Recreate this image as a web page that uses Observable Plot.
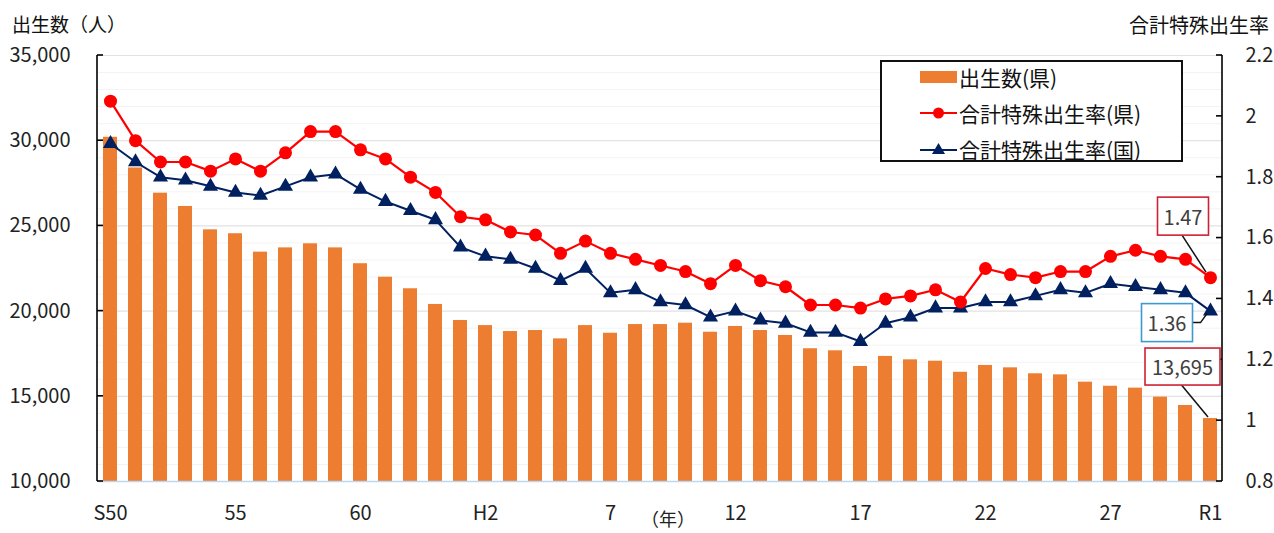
<!DOCTYPE html>
<html><head><meta charset="utf-8">
<script src="https://cdn.jsdelivr.net/npm/d3@7"></script>
<script src="https://cdn.jsdelivr.net/npm/@observablehq/plot@0.6"></script>
<style>
body{margin:0;background:#fff;font-family:"Noto Sans CJK JP","Noto Sans",sans-serif;}
#wrap{position:relative;width:1274px;height:533px;overflow:hidden;background:#fff;}
.abs{position:absolute;white-space:nowrap;color:#222;line-height:1;}
#legend{position:absolute;left:880px;top:60px;width:299px;height:98px;border:2px solid #111;background:#fff;}
.li{position:absolute;left:38px;height:30px;display:flex;align-items:center;font-size:21px;color:#111;}
.li svg{margin-right:2px;}
</style></head><body><div id="wrap"></div>
<script>
// ---- data ----
const years = ["S50","S51","S52","S53","S54","S55","S56","S57","S58","S59","S60","S61","S62","S63",
  "H1","H2","H3","H4","H5","H6","H7","H8","H9","H10","H11","H12","H13","H14","H15","H16","H17","H18","H19","H20",
  "H21","H22","H23","H24","H25","H26","H27","H28","H29","H30","R1"];
const births = [30200,28400,26920,26140,24770,24540,23460,23710,23950,23710,22780,21990,21310,20390,
  19450,19150,18800,18860,18370,19150,18700,19210,19210,19290,18760,19100,18860,18570,17790,17670,16750,17340,17140,17060,
  16410,16810,16670,16320,16260,15830,15590,15480,14950,14460,13695];
const tfrPref = [2.05,1.92,1.85,1.85,1.82,1.86,1.82,1.88,1.95,1.95,1.89,1.86,1.80,1.75,
  1.67,1.66,1.62,1.61,1.55,1.59,1.55,1.53,1.51,1.49,1.45,1.51,1.46,1.44,1.38,1.38,1.37,1.40,1.41,1.43,
  1.39,1.50,1.48,1.47,1.49,1.49,1.54,1.56,1.54,1.53,1.47];
const tfrNation = [1.91,1.85,1.80,1.79,1.77,1.75,1.74,1.77,1.80,1.81,1.76,1.72,1.69,1.66,
  1.57,1.54,1.53,1.50,1.46,1.50,1.42,1.43,1.39,1.38,1.34,1.36,1.33,1.32,1.29,1.29,1.26,1.32,1.34,1.37,
  1.37,1.39,1.39,1.41,1.43,1.42,1.45,1.44,1.43,1.42,1.36];
const leftTicks = [10000,15000,20000,25000,30000,35000];
const rightTicks = [0.8,1,1.2,1.4,1.6,1.8,2,2.2];
const rightTickLabels = ["0.8","1","1.2","1.4","1.6","1.8","2","2.2"];
const xTickYears = ["S50","S55","S60","H2","H7","H12","H17","H22","H27","R1"];
const xTickLabels = ["S50","55","60","H2","7","12","17","22","27","R1"];
const seriesNames = ["出生数(県)","合計特殊出生率(県)","合計特殊出生率(国)"];
const colors = {bar:"#ed7d31", pref:"#ff0000", nation:"#002060"};
const leftTitle = "出生数（人）", rightTitle = "合計特殊出生率", xTitle = "（年）";

// ---- scales mapping ----
const bDom = [10000, 35000], rDom = [0.8, 2.2];
const toB = r => bDom[0] + (r - rDom[0]) / (rDom[1] - rDom[0]) * (bDom[1] - bDom[0]);
const rows = years.map((y, i) => ({year: y, births: births[i], pref: toB(tfrPref[i]), nat: toB(tfrNation[i])}));
const rightPos = rightTicks.map(toB);
const rightMap = new Map(rightPos.map((p, i) => [p, rightTickLabels[i]]));
const xMap = new Map(xTickYears.map((y, i) => [y, xTickLabels[i]]));
const minor = d3.range(bDom[0], bDom[1] + 1, 1000).filter(v => v % 5000 !== 0);

const font = '"Noto Sans CJK JP","Noto Sans",sans-serif';
const chart = Plot.plot({
  width: 1274, height: 533,
  marginLeft: 97, marginRight: 52, marginTop: 55, marginBottom: 52,
  style: {fontFamily: font, fontSize: "20px", color: "#222", background: "transparent", overflow: "visible"},
  x: {type: "band", domain: years, paddingInner: 0.46, paddingOuter: 0.23, axis: null, label: null},
  y: {domain: bDom, axis: null, label: null},
  marks: [
    Plot.ruleY(minor, {stroke: "#f3f3f3", strokeWidth: 1}),
    Plot.ruleY(leftTicks.slice(1), {stroke: "#e2e2e2", strokeWidth: 1.2}),
    Plot.barY(rows, {x: "year", y1: bDom[0], y2: "births", fill: colors.bar}),
    Plot.ruleY([bDom[0]], {stroke: "#bdd7ee", strokeWidth: 1.5}),
    Plot.axisY(leftTicks, {anchor: "left", tickSize: 0, tickPadding: 27, tickFormat: d3.format(","), fill: "#222", fontSize: 20, label: null}),
    Plot.axisY(rightPos, {anchor: "right", tickSize: 0, tickPadding: 23, tickFormat: d => rightMap.get(d), fill: "#222", fontSize: 20, label: null}),
    Plot.axisX(xTickYears, {anchor: "bottom", tickSize: 0, tickPadding: 24, tickFormat: d => xMap.get(d), fill: "#222", fontSize: 20, label: null}),
    Plot.lineY(rows, {x: "year", y: "nat", stroke: colors.nation, strokeWidth: 2}),
    Plot.dot(rows, {x: "year", y: "nat", symbol: "triangle", r: 5.6, fill: colors.nation, stroke: "none"}),
    Plot.lineY(rows, {x: "year", y: "pref", stroke: colors.pref, strokeWidth: 2.2}),
    Plot.dot(rows, {x: "year", y: "pref", r: 6.5, fill: colors.pref, stroke: "none"})
  ]
});

const wrap = document.getElementById("wrap");
chart.style.position = "absolute"; chart.style.left = "0px"; chart.style.top = "0px";
wrap.appendChild(chart);

const X = chart.scale("x"), Y = chart.scale("y");
const svg = d3.select(chart);

// ---- axis lines and inward ticks (from scale ranges) ----
const [xl, xr] = X.range;
const yb = Y.apply(bDom[0]), yt = Y.apply(bDom[1]);
const ax = svg.append("g").attr("stroke", "#000").attr("stroke-width", 1.6).attr("fill", "none");
ax.append("line").attr("x1", xl).attr("x2", xl).attr("y1", yt).attr("y2", yb);
ax.append("line").attr("x1", xr).attr("x2", xr).attr("y1", yt).attr("y2", yb);
leftTicks.forEach(t => ax.append("line").attr("x1", xl).attr("x2", xl + 6).attr("y1", Y.apply(t)).attr("y2", Y.apply(t)));
rightPos.forEach(t => ax.append("line").attr("x1", xr - 6).attr("x2", xr).attr("y1", Y.apply(t)).attr("y2", Y.apply(t)));

// ---- annotations (positions derived from scales) ----
const last = rows[rows.length - 1];
const cx = X.apply(last.year) + X.bandwidth / 2;
const ann = svg.append("g").attr("font-family", font).attr("font-size", 20);
function box(text, px, py, ox, oy, w, h, border, path) {
  const bx = px + ox, by = py + oy;
  ann.append("path").attr("d", path(bx, by, w, h)).attr("fill", "none").attr("stroke", "#111").attr("stroke-width", 1.5);
  ann.append("rect").attr("x", bx - w / 2).attr("y", by - h / 2).attr("width", w).attr("height", h)
    .attr("fill", "#fff").attr("stroke", border).attr("stroke-width", 1.6);
  ann.append("text").attr("x", bx).attr("y", by).attr("text-anchor", "middle").attr("dominant-baseline", "central")
    .attr("fill", "#404040").text(text);
}
const pyPref = Y.apply(last.pref), pyNat = Y.apply(last.nat), pyBar = Y.apply(last.births);
box(String(tfrPref[tfrPref.length - 1]), cx, pyPref, -27, -61, 51, 38, "#cc2233",
  (bx, by, w, h) => `M${bx - 1},${by + h / 2}L${cx - 4},${pyPref - 5}`);
box(String(tfrNation[tfrNation.length - 1]), cx, pyNat, -43, 12, 51, 38, "#3d9ad1",
  (bx, by, w, h) => `M${bx + w / 2},${by}H${bx + w / 2 + 8}L${cx - 3},${pyNat + 3}`);
box(d3.format(",")(births[births.length - 1]), cx, pyBar, -27.5, -51.5, 75, 37, "#cc2233",
  (bx, by, w, h) => `M${bx - 1},${by + h / 2}L${cx - 2},${pyBar - 1}`);

// ---- titles ----
function label(t, css) { const d = document.createElement("div"); d.className = "abs"; d.textContent = t; Object.assign(d.style, css); wrap.appendChild(d); return d; }
label(leftTitle, {left: "12px", top: "14px", fontSize: "19px", color: "#111"});
label(rightTitle, {right: "5px", top: "15px", fontSize: "20px", color: "#111"});
label(xTitle, {left: "641px", top: "509px", fontSize: "18px", color: "#222"});

// ---- legend ----
const lg = document.createElement("div"); lg.id = "legend"; wrap.appendChild(lg);
const kinds = ["bar", "pref", "nation"];
seriesNames.forEach((name, i) => {
  const it = document.createElement("div"); it.className = "li"; it.style.top = (i * 36) + "px";
  const k = kinds[i];
  let sw;
  if (k === "bar") sw = `<svg width="37" height="14"><rect x="0" y="1" width="37" height="12" fill="${colors.bar}"/></svg>`;
  else if (k === "pref") sw = `<svg width="37" height="16"><line x1="0" y1="8" x2="37" y2="8" stroke="${colors.pref}" stroke-width="2"/><circle cx="18.5" cy="8" r="5.5" fill="${colors.pref}"/></svg>`;
  else sw = `<svg width="37" height="16"><line x1="0" y1="9" x2="37" y2="9" stroke="${colors.nation}" stroke-width="2"/><path d="M18.5,2L25,13H12Z" fill="${colors.nation}"/></svg>`;
  it.innerHTML = sw + `<span>${name}</span>`;
  lg.appendChild(it);
});
</script></body></html>
